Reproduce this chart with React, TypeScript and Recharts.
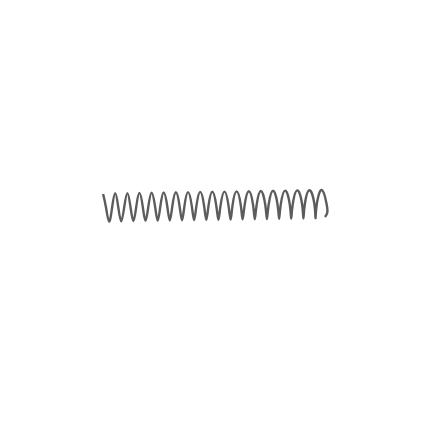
import React from "react";
import { LineChart, Line, XAxis, YAxis } from "recharts";

// Spring coil path (page pixel units)
const coilX: number[] = [
  103.1, 106.0, 109.1, 112.1,
  115.2, 118.3, 121.2, 124.2,
  127.4, 130.5, 133.4, 136.2,
  139.4, 142.8, 145.5, 148.3,
  151.6, 155.1, 157.7, 160.3,
  163.7, 167.3, 169.8, 172.3,
  175.9, 179.6, 182.0, 184.4,
  188.0, 191.8, 194.1, 196.4,
  200.2, 204.1, 206.3, 208.5,
  212.3, 216.3, 218.4, 220.5,
  224.5, 228.5, 230.6, 232.5,
  236.6, 240.8, 242.6, 244.6,
  248.8, 253.1, 254.8, 256.6,
  260.9, 265.3, 266.9, 268.6,
  273.1, 277.6, 279.1, 280.7,
  285.2, 289.8, 291.2, 292.7,
  297.4, 302.1, 303.4, 304.8,
  309.5, 314.4, 315.5, 316.8,
  321.7, 326.6, 327.2, 325.0,
];

const coilY: number[] = [
  194.0, 207.5, 221.5, 207.5,
  193.3, 207.3, 221.3, 207.3,
  193.1, 207.1, 221.1, 207.1,
  192.9, 206.9, 220.9, 206.9,
  192.7, 206.7, 220.7, 206.7,
  192.5, 206.5, 220.5, 206.5,
  192.3, 206.3, 220.3, 206.3,
  192.1, 206.1, 220.1, 206.1,
  191.9, 205.9, 219.9, 205.9,
  191.8, 205.8, 219.8, 205.8,
  191.6, 205.6, 219.6, 205.6,
  191.4, 205.4, 219.4, 205.4,
  191.2, 205.2, 219.2, 205.2,
  191.0, 205.0, 219.0, 205.0,
  190.8, 204.8, 218.8, 204.8,
  190.6, 204.6, 218.6, 204.6,
  190.4, 204.4, 218.4, 204.4,
  190.2, 204.2, 218.2, 204.2,
  190.0, 204.0, 213.0, 217.0,
];

const xDomain: [number, number] = [8, 448];
const yDomain: [number, number] = [8, 448];

const data = coilX.map((x, i) => ({ x, y: coilY[i] }));

export default function App() {
  return (
    <div style={{ width: 440, height: 440, background: "#ffffff" }}>
      <LineChart
        width={440}
        height={440}
        data={data}
        margin={{ top: 0, right: 0, bottom: 0, left: 0 }}
      >
        <XAxis type="number" dataKey="x" domain={xDomain} hide allowDataOverflow />
        <YAxis type="number" dataKey="y" domain={yDomain} reversed hide allowDataOverflow />
        <Line
          type="natural"
          dataKey="y"
          stroke="#5c5c5c"
          strokeWidth={2.4}
          dot={false}
          activeDot={false}
          isAnimationActive={false}
        />
      </LineChart>
    </div>
  );
}
